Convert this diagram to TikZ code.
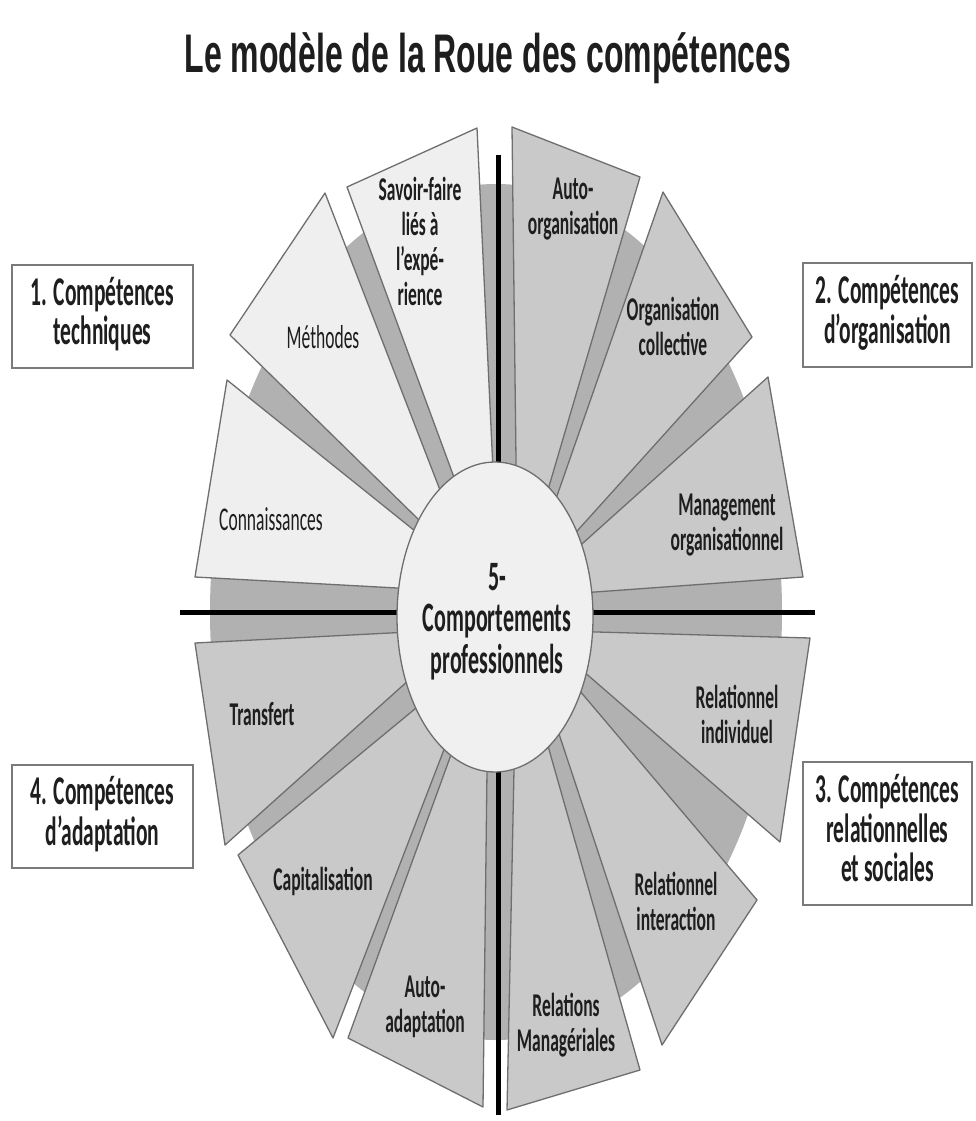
\documentclass[tikz,border=0pt]{standalone}
\usepackage{fontspec}
\setmainfont{Carlito}
\newfontfamily\titlefont{Liberation Sans}
\usepackage{graphicx}
\usetikzlibrary{calc}
\definecolor{lightw}{HTML}{EFEFEF}
\definecolor{darkw}{HTML}{C9C9C9}
\definecolor{discc}{HTML}{B1B1B1}
\definecolor{edgec}{HTML}{6E6E6E}
\definecolor{circc}{HTML}{F0F0F0}
\definecolor{txtc}{HTML}{1E1E1E}
\definecolor{boxc}{HTML}{7A7A7A}
\newcommand{\stretchlbl}[3]{\scalebox{1}[1.9]{\fontsize{#1}{#2}\selectfont\begin{tabular}{@{}c@{}}#3\end{tabular}}}
\newcommand{\wedgeshape}[5]{\path[#1] (#2) -- (#4) -- ($(#4)!1.3!(#5)$) -- ($(#2)!1.3!(#3)$) -- cycle;}
\begin{document}
\begin{tikzpicture}[x=1pt,y=-1pt,
  wlight/.style={fill=lightw,draw=edgec,line width=1.3pt,line join=round},
  wdark/.style={fill=darkw,draw=edgec,line width=1.3pt,line join=round},
  axisline/.style={draw=black,line width=5pt},
  lbl/.style={inner sep=0pt,text=txtc,font=\bfseries},
  lblreg/.style={inner sep=0pt,text=txtc},
  boxst/.style={draw=boxc,line width=2pt,fill=white,inner sep=0pt,text=txtc,font=\bfseries}]
\useasboundingbox (0,0) rectangle (976,1121);
% title
\node[anchor=base,inner sep=0pt,text=txtc] (title) at (488,73) {\scalebox{1}[1.7]{\titlefont\bfseries\fontsize{32}{36}\selectfont Le modèle de la Roue des compétences}};
% background disc
\fill[discc] (496,612) ellipse [x radius=286, y radius=428];
% top-left quadrant
\wedgeshape{wlight}{227,380}{410,527}{195,577}{397,588}
\wedgeshape{wlight}{325,193}{440,490}{230,335}{417,518}
\wedgeshape{wlight}{477,128}{493,470}{347,187}{455,480}
% top-right quadrant
\wedgeshape{wdark}{512,127}{516,460}{640,177}{550,483}
\wedgeshape{wdark}{663,192}{558,493}{752,337}{578,530}
\wedgeshape{wdark}{768,377}{583,543}{803,577}{595,592}
% bottom-right quadrant
\wedgeshape{wdark}{810,638}{597,632}{780,842}{590,677}
\wedgeshape{wdark}{757,900}{585,697}{662,1045}{562,743}
\wedgeshape{wdark}{640,1070}{550,753}{507,1110}{514,770}
% bottom-left quadrant
\wedgeshape{wdark}{483,1107}{487,770}{348,1038}{448,763}
\wedgeshape{wdark}{333,1038}{440,760}{238,855}{410,713}
\wedgeshape{wdark}{225,845}{400,688}{195,643}{390,633}
% axes
\draw[axisline] (180,612) -- (815,612);
\draw[axisline] (498,155) -- (498,1115);
% centre circle
\path[fill=circc,draw=edgec,line width=1.3pt] (495,617) ellipse [x radius=98, y radius=155];
% wedge labels
\node[lbl] (savoir) at (420,246) {\stretchlbl{17.5}{18.5}{Savoir-faire\\liés à\\l’expé-\\rience}};
\node[lblreg] (methodes) at (323,341) {\stretchlbl{17.5}{18.5}{Méthodes}};
\node[lblreg] (connaiss) at (271,523) {\stretchlbl{17.5}{18.5}{Connaissances}};
\node[lbl] (autoorg) at (573,210) {\stretchlbl{17.5}{18.5}{Auto-\\organisation}};
\node[lbl] (orgcoll) at (673,331) {\stretchlbl{17.5}{18.5}{Organisation\\collective}};
\node[lbl] (mgmt) at (727,526) {\stretchlbl{17.5}{18.5}{Management\\organisationnel}};
\node[lbl] (relind) at (737,719) {\stretchlbl{17.5}{18.5}{Relationnel\\individuel}};
\node[lbl] (relint) at (676,906) {\stretchlbl{17.5}{18.5}{Relationnel\\interaction}};
\node[lbl] (relman) at (566,1027) {\stretchlbl{17.5}{18.5}{Relations\\Managériales}};
\node[lbl] (autoadapt) at (425,1008) {\stretchlbl{17.5}{18.5}{Auto-\\adaptation}};
\node[lbl] (capital) at (323,883) {\stretchlbl{17.5}{18.5}{Capitalisation}};
\node[lbl] (transfert) at (262,718) {\stretchlbl{17.5}{18.5}{Transfert}};
% centre label
\node[lbl] (centre) at (497,624) {\stretchlbl{22}{21.6}{5-\\Comportements\\professionnels}};
% category boxes
\node[boxst,minimum width=181pt,minimum height=103pt] (box1) at (102.5,316.5) {\stretchlbl{21.5}{19.5}{1. Compétences\\techniques}};
\node[boxst,minimum width=169pt,minimum height=104pt] (box2) at (887.5,315) {\stretchlbl{21.5}{19.5}{2. Compétences\\d’organisation}};
\node[boxst,minimum width=169pt,minimum height=143pt] (box3) at (887.5,833.5) {\stretchlbl{21.5}{19.5}{3. Compétences\\relationnelles\\et sociales}};
\node[boxst,minimum width=181pt,minimum height=103pt] (box4) at (102.5,816.5) {\stretchlbl{21.5}{19.5}{4. Compétences\\d’adaptation}};
\end{tikzpicture}
\end{document}
